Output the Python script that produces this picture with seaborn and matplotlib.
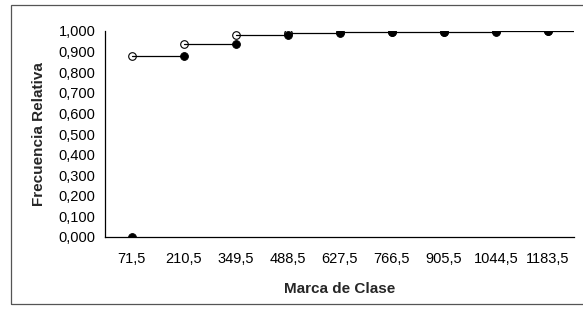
import numpy as np
import pandas as pd
import matplotlib
matplotlib.use("Agg")
import matplotlib.pyplot as plt
import seaborn as sns
from matplotlib.patches import Rectangle
from matplotlib.ticker import FuncFormatter

# marcas de clase y frecuencia relativa acumulada (ojiva en escalones)
marcas = [71.5, 210.5, 349.5, 488.5, 627.5, 766.5, 905.5, 1044.5, 1183.5]
frec_acum = [0.880, 0.936, 0.982, 0.992, 0.994, 0.996, 0.997, 0.998, 1.000]
limite_final = 1253.0
y_ticks = [0.0, 0.1, 0.2, 0.3, 0.4, 0.5, 0.6, 0.7, 0.8, 0.9, 1.0]

# tramos horizontales: desde cada marca hasta la siguiente
fines = marcas[1:] + [limite_final]
tramos = pd.DataFrame({
    "tramo": np.repeat(np.arange(len(marcas)), 2),
    "x": np.ravel(np.column_stack([marcas, fines])),
    "y": np.repeat(frec_acum, 2),
})
# puntos abiertos (inicio del tramo) y cerrados (valor anterior)
abiertos = pd.DataFrame({"x": marcas, "y": frec_acum})
cerrados = pd.DataFrame({"x": marcas, "y": [0.0] + frec_acum[:-1]})

sns.set_style("white")
plt.rcParams["font.family"] = ["Liberation Sans", "DejaVu Sans"]

fig = plt.figure(figsize=(5.83, 3.14), dpi=100)
# borde del area del grafico
fig.patches.append(Rectangle((11 / 583, 1 - 304 / 314), 1.0, (304 - 5) / 314,
                             transform=fig.transFigure, fill=False,
                             edgecolor="#555555", linewidth=0.9))
ax = fig.add_axes([105 / 583, 1 - 237 / 314, (574 - 105) / 583, (237 - 31) / 314])

sns.scatterplot(data=abiertos, x="x", y="y", ax=ax, marker="o", s=30,
                facecolor="white", edgecolor="black", linewidth=0.8, zorder=2)
sns.lineplot(data=tramos, x="x", y="y", units="tramo", estimator=None, ax=ax,
             color="black", linewidth=0.9, zorder=3)
sns.scatterplot(data=cerrados, x="x", y="y", ax=ax, marker="o", s=32,
                color="black", edgecolor="black", linewidth=0.6, zorder=4)

ax.set_xlim(0, limite_final)
ax.set_ylim(0, 1.0)
ax.set_xticks(marcas)
ax.set_xticklabels([f"{m:.1f}".replace(".", ",") for m in marcas])
ax.set_yticks(y_ticks)
ax.yaxis.set_major_formatter(FuncFormatter(lambda v, p: f"{v:.3f}".replace(".", ",")))

for s in ["top", "right"]:
    ax.spines[s].set_visible(False)
for s in ["left", "bottom"]:
    ax.spines[s].set_color("black")
    ax.spines[s].set_linewidth(0.9)
ax.tick_params(axis="both", direction="out", length=4, width=0.8, color="black",
               labelsize=10.5, labelcolor="black", pad=3)
ax.tick_params(axis="x", pad=7)

ax.set_xlabel("Marca de Clase", fontsize=11, fontweight="bold", labelpad=11)
ax.set_ylabel("Frecuencia Relativa", fontsize=11, fontweight="bold", labelpad=9)

fig.savefig("out.png", dpi=100)
